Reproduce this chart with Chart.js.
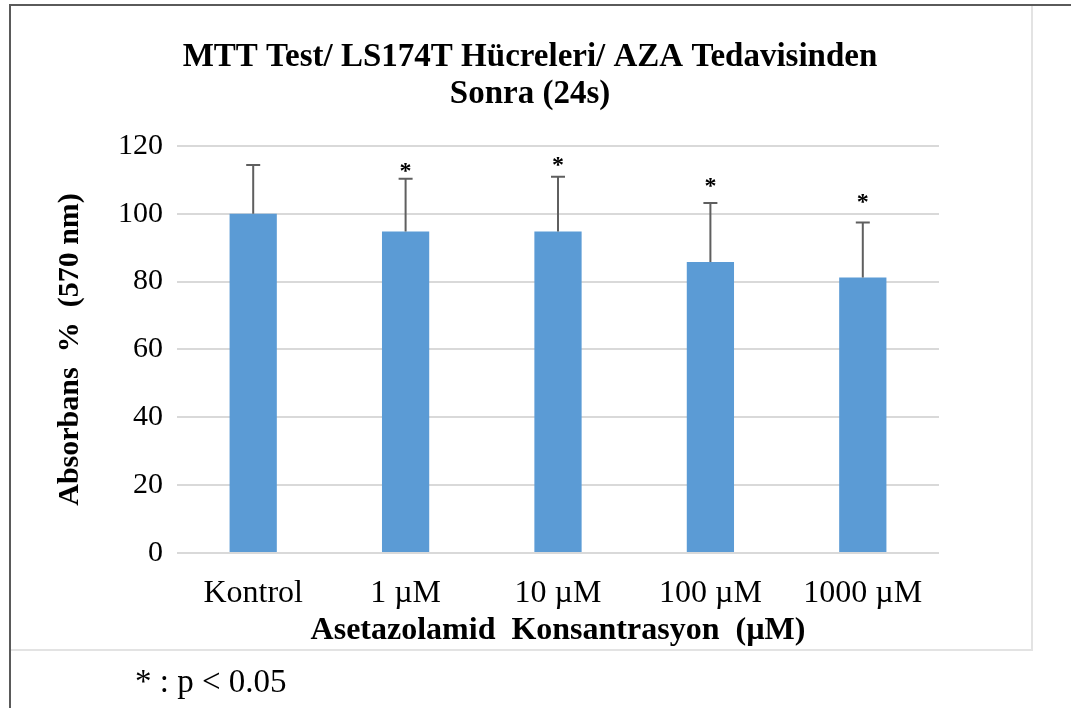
<!DOCTYPE html>
<html>
<head>
<meta charset="utf-8">
<script src="https://cdn.jsdelivr.net/npm/chart.js@4.4.1/dist/chart.umd.min.js"></script>
<style>
  body { margin: 0; background: #fff; }
  #wrap { position: relative; width: 1071px; height: 708px; overflow: hidden; }
  #c { position: absolute; left: 0; top: 0; }
  .line { position: absolute; }
  #note { position: absolute; left: 135px; top: 663px; font-family: "Liberation Serif", serif; font-size: 33px; color: #000; }
</style>
</head>
<body>
<div id="wrap">
  <canvas id="c" width="1071" height="708"></canvas>
  <div class="line" style="left:11px;top:6px;width:1020px;height:643px;border-right:2px solid #e3e3e3;border-bottom:2px solid #e3e3e3;"></div>
  <div class="line" style="left:9px;top:4px;width:2px;height:704px;background:#5a5a5a;"></div>
  <div class="line" style="left:9px;top:4px;width:1062px;height:2px;background:#5a5a5a;"></div>
  <div id="note">* : p &lt; 0.05</div>
</div>
<script>
// data
var categories = ["Kontrol", "1 \u00b5M", "10 \u00b5M", "100 \u00b5M", "1000 \u00b5M"];
var absorbans = [100, 94.8, 94.8, 85.8, 81.2];
var upperError = [14.4, 15.5, 16.1, 17.4, 16.2];
var significant = [false, true, true, true, true];
var starLevel = [0, 113.8, 115.6, 109.4, 104.7];
var yTicks = [0, 20, 40, 60, 80, 100, 120];

var serif = "'Liberation Serif', 'Times New Roman', serif";

// error bars + asterisks
var errorBars = {
    id: "errorBars",
    afterDatasetsDraw: function(chart) {
        var ctx = chart.ctx;
        var yScale = chart.scales.y;
        var meta = chart.getDatasetMeta(0);
        ctx.save();
        meta.data.forEach(function(bar, i) {
            var x = bar.x;
            var yTop = yScale.getPixelForValue(absorbans[i] + upperError[i]);
            var yBase = yScale.getPixelForValue(absorbans[i]);
            ctx.strokeStyle = "#5f5f5f";
            ctx.lineWidth = 2;
            ctx.beginPath();
            ctx.moveTo(x, yBase);
            ctx.lineTo(x, yTop);
            ctx.moveTo(x - 7, yTop);
            ctx.lineTo(x + 7, yTop);
            ctx.stroke();
            if (significant[i]) {
                ctx.fillStyle = "#000";
                ctx.font = "bold 24px " + serif;
                ctx.textAlign = "center";
                ctx.textBaseline = "middle";
                ctx.fillText("*", x, yScale.getPixelForValue(starLevel[i]) + 5);
            }
        });
        ctx.restore();
    }
};

var ctx = document.getElementById("c");

var chart = new Chart(ctx, {
    type: "bar",
    data: {
        labels: categories,
        datasets: [{
            data: absorbans,
            backgroundColor: "#5b9bd5",
            borderWidth: 0,
            categoryPercentage: 1,
            barPercentage: 0.31
        }]
    },
    options: {
        responsive: false,
        animation: false,
        layout: { padding: { left: 5, right: 16, top: 6, bottom: 57 } },
        plugins: {
            legend: { display: false },
            tooltip: { enabled: false },
            title: {
                display: true,
                text: ["MTT Test/ LS174T H\u00fccreleri/ AZA Tedavisinden", "Sonra (24s)"],
                color: "#000",
                font: { family: serif, size: 33, weight: "bold", lineHeight: 1.12 },
                padding: { top: 33, bottom: 33 }
            }
        },
        scales: {
            x: {
                grid: { display: false },
                border: { display: false },
                ticks: { color: "#000", padding: 13, font: { family: serif, size: 32 } },
                title: {
                    display: true,
                    text: "Asetazolamid  Konsantrasyon  (\u00b5M)",
                    color: "#000",
                    font: { family: serif, size: 32, weight: "bold", lineHeight: 1 },
                    padding: { top: 0 }
                },
                afterFit: function(scale) { scale.height = 98; }
            },
            y: {
                min: 0,
                max: 120,
                afterBuildTicks: function(scale) {
                    scale.ticks = yTicks.map(function(v) { return { value: v }; });
                },
                grid: { color: "#d9d9d9", lineWidth: 2, drawTicks: false },
                border: { display: false },
                ticks: { color: "#000", padding: 14, font: { family: serif, size: 30 } },
                title: {
                    display: true,
                    text: "Absorbans  %  (570 nm)",
                    color: "#000",
                    font: { family: serif, size: 30, weight: "bold", lineHeight: 1.2 },
                    padding: { top: 47 }
                },
                afterFit: function(scale) { scale.width = 172; }
            },
            yR: {
                position: "right",
                min: 0,
                max: 120,
                grid: { display: false },
                border: { display: false },
                ticks: { display: false },
                afterFit: function(scale) { scale.width = 116; }
            }
        }
    },
    plugins: [errorBars]
});
</script>
</body>
</html>
